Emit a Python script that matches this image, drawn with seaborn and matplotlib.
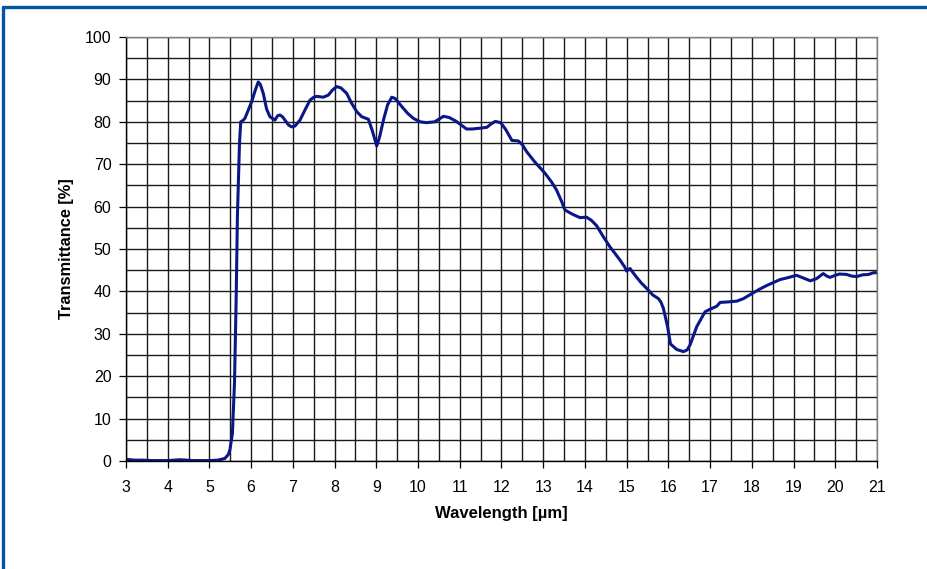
import matplotlib
matplotlib.use("Agg")
import matplotlib.pyplot as plt
import seaborn as sns
import pandas as pd
from matplotlib.lines import Line2D
from matplotlib.ticker import MultipleLocator

wavelength = [3.0, 3.2, 3.4, 3.6, 3.8, 4.0, 4.3, 4.6, 5.0, 5.2, 5.37, 5.45, 5.49, 5.55, 5.60,
              5.64, 5.67, 5.72, 5.75, 5.8, 5.85, 5.9, 6.01, 6.1, 6.17, 6.22, 6.29, 6.37, 6.45,
              6.57, 6.63, 6.69, 6.75, 6.81, 6.9, 6.97, 7.05, 7.17, 7.3, 7.41, 7.5, 7.57, 7.73,
              7.85, 7.95, 8.05, 8.15, 8.29, 8.4, 8.53, 8.65, 8.81, 8.9, 9.01, 9.08, 9.17, 9.27,
              9.37, 9.45, 9.61, 9.75, 9.89, 10.05, 10.2, 10.4, 10.61, 10.75, 10.9, 11.0, 11.16,
              11.3, 11.49, 11.65, 11.75, 11.85, 11.98, 12.1, 12.25, 12.4, 12.5, 12.6, 12.8,
              13.04, 13.2, 13.32, 13.45, 13.52, 13.7, 13.88, 14.04, 14.15, 14.28, 14.44, 14.6,
              14.84, 14.95, 15.0, 15.08, 15.2, 15.35, 15.48, 15.62, 15.76, 15.82, 15.88, 15.98,
              16.05, 16.2, 16.36, 16.45, 16.52, 16.68, 16.88, 17.0, 17.16, 17.24, 17.4, 17.64,
              17.8, 18.04, 18.2, 18.36, 18.5, 18.68, 18.85, 19.07, 19.2, 19.4, 19.55, 19.71,
              19.8, 19.87, 20.0, 20.1, 20.27, 20.4, 20.51, 20.65, 20.8, 20.91, 21.0]

transmittance = [0.4, 0.2, 0.2, 0.1, 0.1, 0.1, 0.3, 0.1, 0.1, 0.2, 0.6, 1.5, 2.6, 6.5, 18.3,
                 38.0, 57.6, 74.9, 80.0, 80.3, 80.8, 82.0, 84.7, 87.5, 89.4, 88.8, 86.7, 83.0, 81.2,
                 80.4, 81.4, 81.6, 81.2, 80.4, 79.2, 78.8, 79.0, 80.4, 83.0, 85.1, 85.8, 86.0, 85.8,
                 86.3, 87.5, 88.3, 88.0, 86.7, 84.5, 82.4, 81.2, 80.6, 78.0, 74.3, 76.5, 80.4, 84.0,
                 85.8, 85.5, 83.6, 82.0, 80.8, 80.0, 79.8, 80.0, 81.3, 81.0, 80.2, 79.5, 78.3,
                 78.3, 78.5, 78.7, 79.5, 80.1, 79.8, 78.2, 75.6, 75.5, 74.6, 73.0, 70.5,
                 67.9, 65.8, 63.9, 61.0, 59.2, 58.2, 57.4, 57.5, 56.8, 55.5, 52.9, 50.5,
                 47.4, 45.8, 44.8, 45.4, 43.8, 42.0, 40.7, 39.2, 38.3, 37.5, 36.0, 31.7,
                 27.6, 26.3, 25.8, 26.2, 27.4, 31.7, 35.2, 35.8, 36.5, 37.4, 37.5, 37.7,
                 38.3, 39.7, 40.6, 41.4, 42.0, 42.8, 43.2, 43.8, 43.3, 42.5, 43.0, 44.2,
                 43.6, 43.3, 43.8, 44.1, 44.0, 43.6, 43.5, 43.9, 44.0, 44.4, 44.4]

x_ticks = list(range(3, 22))
y_ticks = list(range(0, 101, 10))
x_label = "Wavelength [µm]"
y_label = "Transmittance [%]"

assert len(wavelength) == len(transmittance)

sns.set_theme(style="white")
plt.rcParams['font.family'] = ['Liberation Sans', 'DejaVu Sans']

df = pd.DataFrame({"wl": wavelength, "T": transmittance})

fig = plt.figure(figsize=(9.27, 5.69), dpi=100)
ax = fig.add_axes([126/927, 1-461/569, (877-126)/927, (461-37)/569])

ax.set_xlim(3, 21)
ax.set_ylim(0, 100)
ax.xaxis.set_major_locator(MultipleLocator(1))
ax.xaxis.set_minor_locator(MultipleLocator(0.5))
ax.yaxis.set_major_locator(MultipleLocator(10))
ax.yaxis.set_minor_locator(MultipleLocator(5))
ax.grid(True, which="both", color="#1a1a1a", linewidth=1.0)
ax.set_axisbelow(True)

sns.lineplot(data=df, x="wl", y="T", ax=ax, color="#0B1787", linewidth=2.2,
             estimator=None, sort=False)

ax.set_xticks(x_ticks)
ax.set_yticks(y_ticks)
ax.tick_params(axis="both", which="major", direction="out", length=5, width=0.9,
               color="black", labelsize=11.5, labelcolor="black",
               bottom=True, left=True)
ax.tick_params(axis="x", which="major", pad=9)
ax.tick_params(axis="y", which="major", pad=5.5)
ax.tick_params(axis="both", which="minor", length=0)

for side in ["left", "bottom"]:
    ax.spines[side].set_color("black")
    ax.spines[side].set_linewidth(1.0)
for side in ["top", "right"]:
    ax.spines[side].set_color("#808080")
    ax.spines[side].set_linewidth(1.0)

ax.set_xlabel(x_label, fontsize=12, fontweight="bold", color="black")
ax.set_ylabel(y_label, fontsize=11.8, fontweight="bold", color="black")
ax.xaxis.set_label_coords(0.5, -(506-461)/424, transform=ax.transAxes)
ax.yaxis.set_label_coords(-(126-74)/751, 0.5, transform=ax.transAxes)

# Blue frame (top and left edges)
fig.add_artist(Line2D([3/927, 1.0], [1-6.5/569, 1-6.5/569], transform=fig.transFigure,
                      color="#0055A5", linewidth=2.4))
fig.add_artist(Line2D([3/927, 3/927], [0.0, 1-6.5/569], transform=fig.transFigure,
                      color="#0055A5", linewidth=2.4))

fig.savefig("out.png", dpi=100)
